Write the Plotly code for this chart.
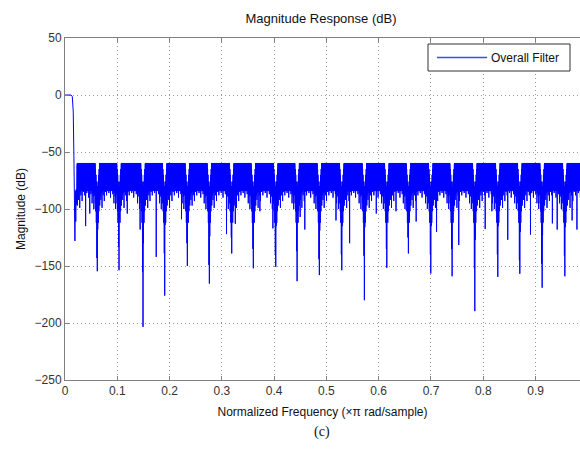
import numpy as np
import plotly.graph_objects as go

# ---------------- data ----------------
# passband and transition band (normalized frequency, dB)
pass_f = [0.0, 0.0115, 0.0140, 0.0158, 0.0172, 0.0190, 0.0198, 0.0206, 0.0214, 0.0222, 0.0230]
pass_db = [0.0, 0.0, -1.5, -15.0, -60.0, -128.0, -84.0, -111.0, -83.0, -96.0, -62.0]

# start / end of the stopband lobe groups
stop_start = 0.0235
stop_end = 1.0
# equiripple stopband ceiling
stop_peak_db = -60.0
# solid ripple floor between the listed troughs
ripple_floor_db = [-84.0, -82.0]

# notches between lobe groups: centre frequency, deepest value, inner (solid) depth
notch_f = [0.0618, 0.1033, 0.1492, 0.1907, 0.2340, 0.2761, 0.3189, 0.3602, 0.4031, 0.4439, 0.4865,
           0.5294, 0.5726, 0.6155, 0.6568, 0.6996, 0.7404, 0.7838, 0.8278, 0.8699, 0.9126, 0.9560]
notch_db = [-154.6, -153.7, -203.4, -176.0, -150.0, -165.4, -139.0, -152.0, -150.7, -163.3, -158.0,
            -153.7, -180.0, -151.6, -139.0, -156.6, -159.0, -189.6, -159.5, -156.8, -169.0, -159.0]
notch_inner_db = [-143, -133, -155, -139, -130, -149, -125, -135, -140, -137, -144,
                  -140, -141, -135, -125, -140, -135, -152, -140, -145, -148, -141]

# trough depths across one lobe group
trough_db = [-97, -88, -92, -86, -99, -85, -88, -84, -93, -83, -85, -82, -88, -81, -84,
             -82, -86, -81, -83, -90, -82, -84, -83, -87, -84, -95, -86, -89, -100, -88]

# isolated deeper spikes inside lobe groups
spike_f = [0.0396, 0.0478, 0.1192, 0.1448, 0.1747, 0.2225, 0.2430, 0.3094, 0.3252, 0.3731,
           0.3974, 0.4496, 0.4592, 0.5185, 0.5439, 0.5950, 0.6333, 0.6715, 0.7111, 0.7532,
           0.8041, 0.8169, 0.8469, 0.8902, 0.9317, 0.9413, 0.9700, 0.9796]
spike_db = [-115, -104, -104, -118, -142, -109, -97, -122, -113, -102,
            -117, -107, -118, -110, -130, -104, -102, -111, -120, -131.6,
            -117.6, -102, -127, -122.5, -112.6, -118, -110, -118]

# shape of a notch flank (offsets in frequency, values; None = inner depth)
notch_side_off = [0.0042, 0.0038, 0.0034, 0.0030, 0.0025, 0.0019, 0.0014, 0.0008, 0.0004]
notch_side_db = [-61, -95, -65, -102, -70, -112, -76, None, -80]

x_ticks = [0, 0.1, 0.2, 0.3, 0.4, 0.5, 0.6, 0.7, 0.8, 0.9]
y_ticks = [50, 0, -50, -100, -150, -200, -250]

# ---------------- build the response trace ----------------
fx = list(pass_f)
fy = list(pass_db)
trough_idx = []
band_x, band_y = [], []

bounds = [stop_start] + notch_f + [stop_end]
gap = 0.0045
for g in range(len(bounds) - 1):
    L = bounds[g] + (0 if g == 0 else gap)
    R = bounds[g + 1] - (0 if g == len(bounds) - 2 else gap)
    band_x += [L, R, R, L, L, None]
    band_y += [stop_peak_db, stop_peak_db, ripple_floor_db[0], ripple_floor_db[0], stop_peak_db, None]
    seq = []
    for t in trough_db:
        seq += [(stop_peak_db, False), (t, True),
                (stop_peak_db, False), (ripple_floor_db[0], False),
                (stop_peak_db, False), (ripple_floor_db[1], False)]
    seq.append((stop_peak_db, False))
    xs = np.linspace(L, R, len(seq))
    for xv, (v, is_t) in zip(xs, seq):
        if is_t:
            trough_idx.append(len(fy))
        fx.append(float(xv))
        fy.append(v)
    if g < len(notch_f):
        c = notch_f[g]
        for off, v in zip(notch_side_off, notch_side_db):
            fx.append(c - off)
            fy.append(notch_inner_db[g] if v is None else v)
        fx.append(c)
        fy.append(notch_db[g])
        for off, v in zip(reversed(notch_side_off), reversed(notch_side_db)):
            fx.append(c + off)
            fy.append((notch_inner_db[g] + 25) if v is None else v)

fx = np.array(fx)
fy = np.array(fy, dtype=float)
tix = np.array(trough_idx)
for sf, sd in zip(spike_f, spike_db):
    j = tix[np.argmin(np.abs(fx[tix] - sf))]
    fy[j] = sd

# ---------------- figure ----------------
font_main = "Liberation Sans, Arial, sans-serif"
fig = go.Figure()
# dense ripple band (solid area of the stopband lobes)
fig.add_trace(go.Scatter(x=band_x, y=band_y, mode="lines", fill="toself", fillcolor="#0000FF",
                         line=dict(color="#0000FF", width=0.5), showlegend=False, hoverinfo="skip"))
fig.add_trace(go.Scatter(x=fx, y=fy, mode="lines", name="Overall Filter",
                         line=dict(color="#0000FF", width=1, simplify=False), showlegend=False))

fig.update_layout(
    width=580, height=449,
    margin=dict(l=65, r=0, t=38, b=69),
    paper_bgcolor="white", plot_bgcolor="white",
    font=dict(family=font_main, size=12, color="#222222"),
    title=dict(text="Magnitude Response (dB)", x=0.497, xref="paper", xanchor="center",
               y=1 - 18 / 449, yref="container", yanchor="middle",
               font=dict(size=13, family=font_main, color="#111111")),
    showlegend=False,
)

# legend box (drawn like the MATLAB legend)
lg_x0, lg_x1, lg_y0, lg_y1 = (428 - 65) / 515, (570 - 65) / 515, (380 - 71) / 342, (380 - 44) / 342
lg_ym = (lg_y0 + lg_y1) / 2
fig.add_shape(type="rect", xref="paper", yref="paper", x0=lg_x0, x1=lg_x1, y0=lg_y0, y1=lg_y1,
              line=dict(color="#333333", width=1), fillcolor="white", layer="above")
fig.add_shape(type="line", xref="paper", yref="paper", x0=(437 - 65) / 515, x1=(487 - 65) / 515,
              y0=lg_ym, y1=lg_ym, line=dict(color="#4646ff", width=1.5), layer="above")
fig.add_annotation(text="Overall Filter", xref="paper", yref="paper", x=(489 - 65) / 515, y=lg_ym,
                   xanchor="left", yanchor="middle", showarrow=False,
                   font=dict(size=12, family=font_main, color="#111111"))

grid_dash = "1px,3px"
fig.update_xaxes(range=[0, 0.985], tickvals=x_ticks, ticktext=[str(v) for v in x_ticks],
                 showline=True, linecolor="#808080", linewidth=1, mirror="allticks",
                 ticks="inside", ticklen=4, tickcolor="#808080",
                 showgrid=True, gridcolor="#999999", griddash=grid_dash, gridwidth=1,
                 zeroline=False, tickfont=dict(size=12, color="#333333"),
                 title=dict(text="Normalized Frequency (\u00d7\u03c0 rad/sample)", standoff=10,
                            font=dict(size=12, color="#111111")))
fig.update_yaxes(range=[-250, 50], tickvals=y_ticks,
                 showline=True, linecolor="#808080", linewidth=1, mirror=False,
                 ticks="inside", ticklen=4, tickcolor="#808080",
                 showgrid=True, gridcolor="#999999", griddash=grid_dash, gridwidth=1,
                 zeroline=False, tickfont=dict(size=12, color="#333333"),
                 title=dict(text="Magnitude (dB)", standoff=6,
                            font=dict(size=12, color="#111111")))
fig.add_annotation(text="(c)", xref="paper", yref="paper", x=0.499, y=(380 - 432) / 342,
                   yanchor="middle", showarrow=False,
                   font=dict(family="Liberation Serif, Times New Roman, serif",
                             size=14, color="#111111"))
fig.write_html("out.html")
